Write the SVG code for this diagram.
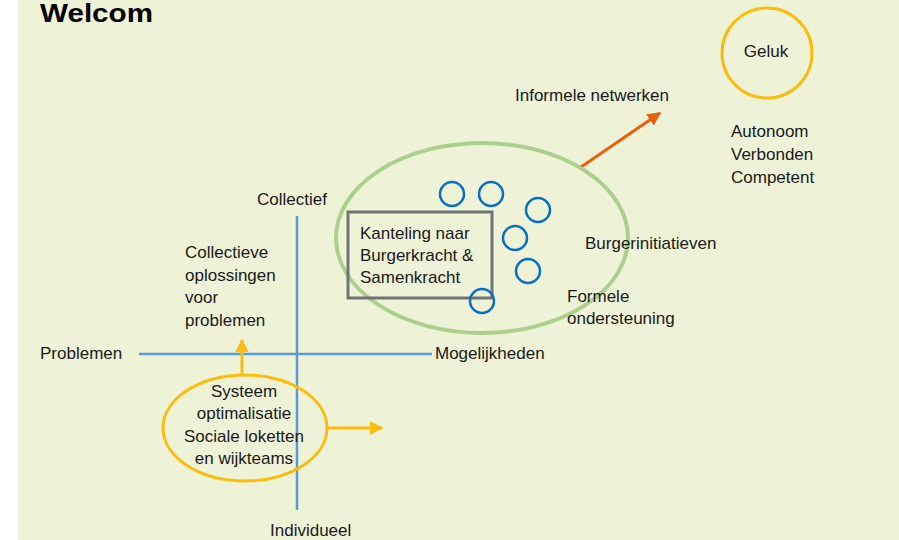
<svg xmlns="http://www.w3.org/2000/svg" width="899" height="540" viewBox="0 0 899 540">
<defs>
<style>
text{font-family:"Liberation Sans",Arial,sans-serif;font-size:17px;fill:#1a1a1a}
.title{font-weight:bold;font-size:25px;fill:#000}
.axis{stroke:#5b9bd5;stroke-width:2.5;fill:none}
.ylw{stroke:#fbbd0d;stroke-width:3;fill:none}
.dot{stroke:#0a6fc2;stroke-width:2.5;fill:none}
.mid{text-anchor:middle}
</style>
<marker id="ay" viewBox="0 0 10 10" refX="9" refY="5" markerWidth="4.5" markerHeight="4.5" orient="auto" markerUnits="strokeWidth"><path d="M0,0L10,5L0,10z" fill="#fbbd0d"/></marker>
<marker id="ao" viewBox="0 0 10 10" refX="9" refY="5" markerWidth="4.5" markerHeight="4.5" orient="auto" markerUnits="strokeWidth"><path d="M0,0L10,5L0,10z" fill="#e8600a"/></marker>
</defs>
<rect x="18" y="0" width="881" height="540" fill="#eef2d6"/>
<text class="title" x="40" y="22" textLength="113" lengthAdjust="spacingAndGlyphs">Welcom</text>

<g id="connectors">
<line class="axis" x1="297" y1="216" x2="297" y2="510"/>
<line class="axis" x1="139" y1="354" x2="432" y2="354"/>
<line stroke="#fbbd0d" stroke-width="3" x1="242" y1="375" x2="242" y2="340" marker-end="url(#ay)"/>
<line stroke="#fbbd0d" stroke-width="3" x1="327" y1="428" x2="382" y2="428" marker-end="url(#ay)"/>
<line stroke="#e8600a" stroke-width="3" x1="581" y1="167" x2="660" y2="113" marker-end="url(#ao)"/>
</g>

<g id="burgerkracht">
<ellipse cx="482" cy="238" rx="146" ry="95" fill="none" stroke="#abd08e" stroke-width="4"/>
</g>
<g id="kanteling">
<rect x="348" y="212" width="144" height="86" fill="none" stroke="#727272" stroke-width="3"/>
<text x="360" y="239">Kanteling naar</text>
<text x="360" y="261">Burgerkracht &amp;</text>
<text x="360" y="283">Samenkracht</text>
</g>
<g id="initiatieven">
<circle class="dot" cx="452" cy="194" r="12"/>
<circle class="dot" cx="491" cy="194" r="12"/>
<circle class="dot" cx="538" cy="210" r="12"/>
<circle class="dot" cx="515" cy="238" r="12"/>
<circle class="dot" cx="528" cy="271" r="12"/>
<circle class="dot" cx="482" cy="301" r="12"/>
</g>
<g id="geluk">
<circle class="ylw" cx="767" cy="53" r="45"/>
<text class="mid" x="766" y="57">Geluk</text>
</g>
<g id="waarden">
<text x="731" y="137">Autonoom</text>
<text x="731" y="160">Verbonden</text>
<text x="731" y="183">Competent</text>
</g>
<g id="systeem">
<ellipse class="ylw" cx="245" cy="428" rx="82" ry="53"/>
<text class="mid" x="244" y="397">Systeem</text>
<text class="mid" x="244" y="419">optimalisatie</text>
<text class="mid" x="244" y="442">Sociale loketten</text>
<text class="mid" x="244" y="464">en wijkteams</text>
</g>
<g id="labels">
<text x="515" y="101">Informele netwerken</text>
<text x="257" y="205">Collectief</text>
<text x="585" y="249">Burgerinitiatieven</text>
<text x="567" y="302">Formele</text>
<text x="567" y="324">ondersteuning</text>
<text x="185" y="258">Collectieve</text>
<text x="185" y="281">oplossingen</text>
<text x="185" y="303">voor</text>
<text x="185" y="326">problemen</text>
<text x="40" y="359">Problemen</text>
<text x="435" y="359">Mogelijkheden</text>
<text x="270" y="536">Individueel</text>
</g>
</svg>
